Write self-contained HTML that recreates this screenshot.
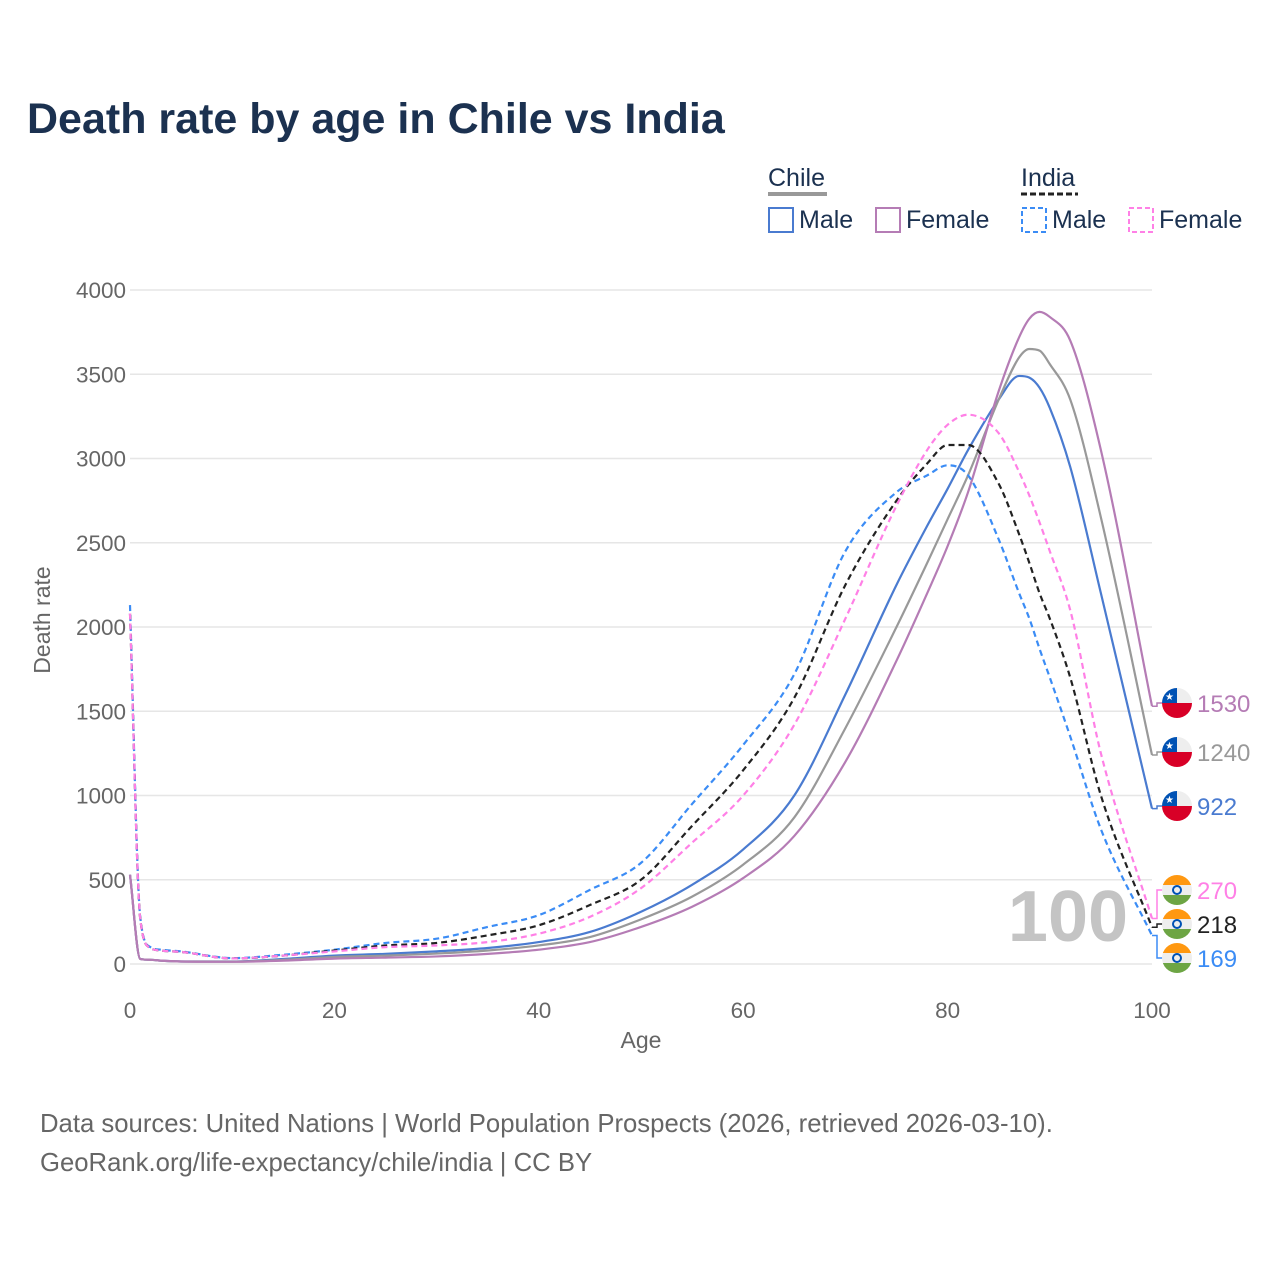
<!DOCTYPE html>
<html><head><meta charset="utf-8"><style>
body{margin:0;background:#fff;font-family:"Liberation Sans",sans-serif;}
svg text{font-family:"Liberation Sans",sans-serif;}
</style></head><body>
<svg id="chart" width="1280" height="1280" xmlns="http://www.w3.org/2000/svg">
<rect width="1280" height="1280" fill="#fff"/>
<text x="27" y="133" font-size="43" font-weight="bold" fill="#1b3150">Death rate by age in Chile vs India</text>
<g font-size="25" fill="#1b3150">
<text x="768" y="186">Chile</text>
<line x1="768" y1="194" x2="827" y2="194" stroke="#999" stroke-width="4"/>
<text x="1021" y="186">India</text>
<line x1="1021" y1="194" x2="1078" y2="194" stroke="#222" stroke-width="3" stroke-dasharray="6,3"/>
<g><rect x="769" y="208" width="24" height="24" fill="none" stroke="#4a7bd0" stroke-width="2"/><text x="799" y="228">Male</text></g>
<g><rect x="876" y="208" width="24" height="24" fill="none" stroke="#b57cb5" stroke-width="2"/><text x="906" y="228">Female</text></g>
<g><rect x="1022" y="208" width="24" height="24" fill="none" stroke="#3b8cf5" stroke-width="2" stroke-dasharray="5,3"/><text x="1052" y="228">Male</text></g>
<g><rect x="1129" y="208" width="24" height="24" fill="none" stroke="#ff80e6" stroke-width="2" stroke-dasharray="5,3"/><text x="1159" y="228">Female</text></g>
</g>
<g id="grid"></g><g id="series"></g><g id="labels"></g>
<text x="1068" y="941" font-size="72" font-weight="bold" fill="#c4c4c4" text-anchor="middle">100</text>
<text x="641" y="1048" font-size="23" fill="#666" text-anchor="middle">Age</text>
<text transform="translate(50,620) rotate(-90)" font-size="23" fill="#666" text-anchor="middle">Death rate</text>
<text x="40" y="1132" font-size="25.7" fill="#666">Data sources: United Nations | World Population Prospects (2026, retrieved 2026-03-10).</text>
<text x="40" y="1171" font-size="25.7" fill="#666">GeoRank.org/life-expectancy/chile/india | CC BY</text>
</svg>
<script>
const ages=[0,1,2,3,5,10,15,20,25,30,35,40,45,50,55,60,65,70,75,78,80,82,85,87,88,89,90,92,95,100];
const chileMale=[530,30,25,20,15,15,30,50,60,75,95,130,190,310,470,680,1000,1600,2250,2600,2820,3050,3350,3490,3480,3420,3300,2950,2200,922];
const chileTotal=[530,30,25,20,15,14,25,42,50,62,80,110,160,265,400,590,870,1400,2000,2380,2640,2900,3350,3600,3650,3640,3560,3350,2650,1240];
const chileFemale=[530,30,25,20,15,13,20,32,38,45,60,85,130,220,340,510,760,1200,1800,2200,2480,2800,3400,3720,3830,3870,3840,3700,3050,1530];
const indiaMale=[2130,280,100,85,75,35,55,85,125,150,220,290,440,600,950,1300,1720,2450,2800,2900,2960,2900,2520,2200,2050,1870,1700,1350,800,169];
const indiaTotal=[2080,270,95,80,72,33,50,80,110,125,170,230,350,500,820,1150,1580,2250,2750,2970,3080,3080,2850,2550,2380,2200,2050,1700,1000,218];
const indiaFemale=[2080,270,95,80,72,33,50,75,100,110,130,180,280,450,720,1000,1420,2050,2720,3050,3200,3260,3150,2920,2780,2620,2450,2100,1250,270];
const yTicks=[0,500,1000,1500,2000,2500,3000,3500,4000];
const xTicks=[0,20,40,60,80,100];

const NS="http://www.w3.org/2000/svg";
const X=a=>130+a*10.22;
const Y=v=>964-v*0.1685;
function mk(t,attrs,parent){const e=document.createElementNS(NS,t);for(const k in attrs)e.setAttribute(k,attrs[k]);parent.appendChild(e);return e;}
const grid=document.getElementById('grid');
yTicks.forEach(v=>{
  const l=mk('line',{x1:130,x2:1152,y1:Y(v),y2:Y(v),stroke:'#e6e6e6','stroke-width':1.5},grid);
  
  
  const t=mk('text',{x:126,y:Y(v)+8,'font-size':22.5,fill:'#666','text-anchor':'end'},grid);
  t.textContent=v;
  
  
});
xTicks.forEach(a=>{
  const t=mk('text',{x:X(a),y:1018,'font-size':22.5,fill:'#666','text-anchor':'middle'},grid);
  t.textContent=a;
  
  
});
function monoPath(xs,ys){
  const n=xs.length,d=[],m=[];
  for(let i=0;i<n-1;i++)d.push((ys[i+1]-ys[i])/(xs[i+1]-xs[i]));
  m[0]=d[0];m[n-1]=d[n-2];
  for(let i=1;i<n-1;i++){m[i]=(d[i-1]*d[i]<=0)?0:(d[i-1]+d[i])/2;}
  for(let i=0;i<n-1;i++){if(d[i]===0){m[i]=m[i+1]=0;continue;}const a=m[i]/d[i],b=m[i+1]/d[i],s=a*a+b*b;if(s>9){const t=3/Math.sqrt(s);m[i]=t*a*d[i];m[i+1]=t*b*d[i];}}
  let p='M'+xs[0]+','+ys[0];
  for(let i=0;i<n-1;i++){const h=(xs[i+1]-xs[i])/3;p+=' C'+(xs[i]+h)+','+(ys[i]+m[i]*h)+' '+(xs[i+1]-h)+','+(ys[i+1]-m[i+1]*h)+' '+xs[i+1]+','+ys[i+1];}
  return p;
}
const series=[
 {name:'chile-male',vals:chileMale,color:'#4a7bd0',dash:null,ly:806},
 {name:'chile-total',vals:chileTotal,color:'#999999',dash:null,ly:752},
 {name:'chile-female',vals:chileFemale,color:'#b57cb5',dash:null,ly:703},
 {name:'india-male',vals:indiaMale,color:'#3b8cf5',dash:'6,4',ly:958},
 {name:'india-total',vals:indiaTotal,color:'#222222',dash:'6,4',ly:924},
 {name:'india-female',vals:indiaFemale,color:'#ff80e6',dash:'6,4',ly:890}
];
const sg=document.getElementById('series'),lg=document.getElementById('labels');
series.forEach(s=>{
  const p=mk('path',{d:monoPath(ages.map(X),s.vals.map(Y)),fill:'none',stroke:s.color,'stroke-width':2.2},sg);
  if(s.dash)p.setAttribute('stroke-dasharray',s.dash);
  
  
  const ey=Y(s.vals[s.vals.length-1]);
  const ld=mk('polyline',{points:`1152,${ey} 1157,${ey} 1157,${s.ly} 1164,${s.ly}`,fill:'none',stroke:s.color,'stroke-width':1.5},lg);
  
  
  const g=mk('g',{},lg);
  
  
  const cx=1177,cy=s.ly,r=15;
  const cid='c'+s.name;
  const cp=mk('clipPath',{id:cid},g);mk('circle',{cx,cy,r},cp);
  const cg=mk('g',{'clip-path':`url(#${cid})`},g);
  if(s.name.startsWith('chile')){
    mk('rect',{x:cx-r,y:cy-r,width:2*r,height:r,fill:'#eee'},cg);
    mk('rect',{x:cx-r,y:cy,width:2*r,height:r,fill:'#d80027'},cg);
    mk('rect',{x:cx-r,y:cy-r,width:r,height:r,fill:'#0052b4'},cg);
    mk('text',{x:cx-7.5,y:cy-3,'font-size':10,fill:'#fff','text-anchor':'middle'},cg).textContent='★';
  }else{
    mk('rect',{x:cx-r,y:cy-r,width:2*r,height:10,fill:'#ff9811'},cg);
    mk('rect',{x:cx-r,y:cy-5,width:2*r,height:10,fill:'#eee'},cg);
    mk('rect',{x:cx-r,y:cy+5,width:2*r,height:10,fill:'#6da544'},cg);
    mk('circle',{cx,cy,r:4,fill:'none',stroke:'#0052b4','stroke-width':2},cg);
  }
  const t=mk('text',{x:1197,y:s.ly+9,'font-size':24,fill:s.color==='#999999'?'#999':s.color},lg);
  t.textContent=s.vals[s.vals.length-1];
  
  
});
</script>
</body></html>
